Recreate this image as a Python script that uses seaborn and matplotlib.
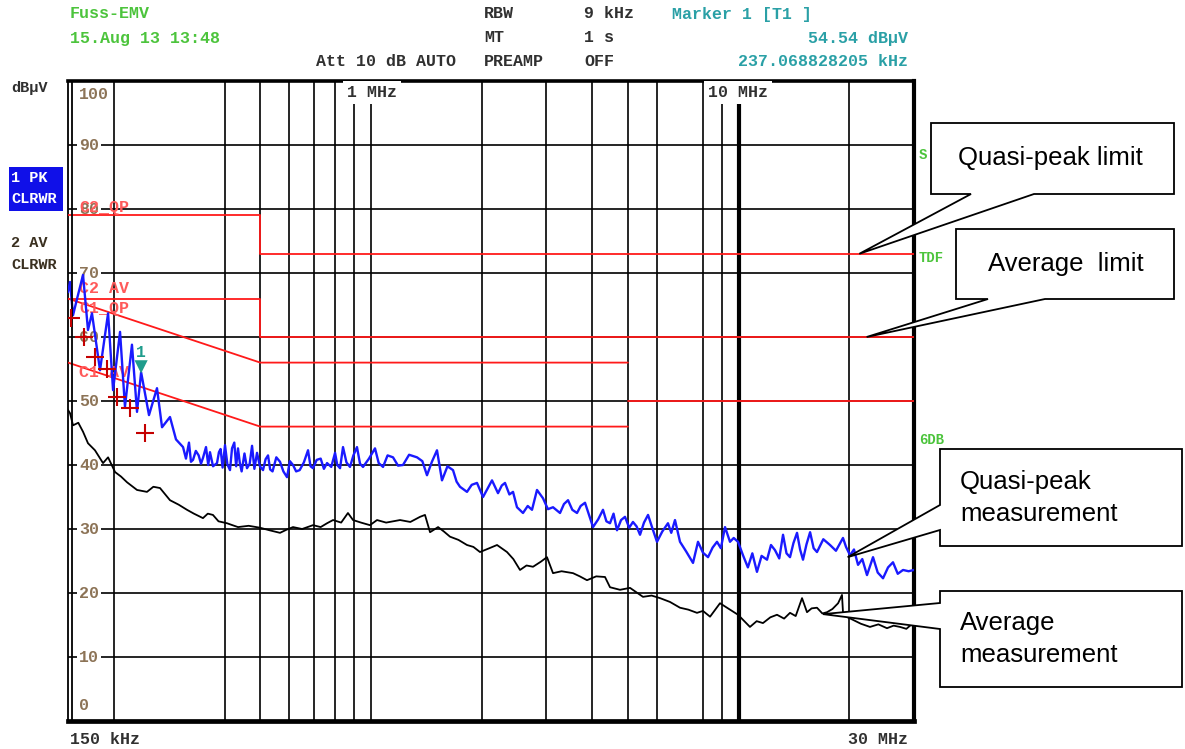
import matplotlib
matplotlib.use("Agg")
import matplotlib.pyplot as plt
import matplotlib.transforms as mtransforms
from matplotlib.patches import Polygon
import pandas as pd
import seaborn as sns

# ---------------- data ----------------
# peak (PK) trace: (frequency MHz, level dBuV)
pk_points = [
    (0.150, 67.0), (0.1519, 68.6), (0.1548, 63.4), (0.158, 65.5), (0.1648, 69.7),
    (0.1700, 61.1), (0.1743, 63.7), (0.1833, 54.8), (0.1928, 63.7), (0.1989, 51.7),
    (0.2078, 60.8), (0.2143, 49.1), (0.2239, 58.8), (0.2311, 48.3), (0.2371, 54.5),
    (0.2491, 47.8), (0.2619, 52.0), (0.2703, 45.9), (0.2841, 47.5), (0.2950, 44.0),
    (0.3083, 42.8), (0.3140, 41.0), (0.3200, 43.5), (0.3240, 40.5), (0.3282, 40.8),
    (0.3340, 42.2), (0.3400, 41.5), (0.3450, 40.2), (0.3493, 41.1), (0.3560, 42.8),
    (0.3610, 40.0), (0.3650, 42.0), (0.3720, 39.8), (0.3814, 40.3), (0.3860, 42.0),
    (0.3900, 42.5), (0.3950, 39.6), (0.4010, 43.1), (0.4070, 40.1), (0.4137, 39.2),
    (0.4190, 42.6), (0.4250, 43.5), (0.4300, 39.8), (0.4350, 42.6), (0.4400, 40.3),
    (0.4450, 39.0), (0.4530, 41.8), (0.4602, 39.5), (0.4680, 40.2), (0.4750, 43.0),
    (0.4820, 39.4), (0.4900, 41.9), (0.4990, 39.8), (0.5088, 39.2), (0.5170, 40.9),
    (0.5250, 41.5), (0.5320, 39.3), (0.5400, 39.0), (0.5530, 41.2), (0.5659, 40.5),
    (0.5780, 39.0), (0.5913, 38.1), (0.6020, 40.6), (0.6139, 40.0), (0.6260, 39.0),
    (0.6400, 39.2), (0.6570, 40.4), (0.6744, 42.3), (0.6850, 39.8), (0.6958, 39.5),
    (0.7120, 40.8), (0.7300, 41.0), (0.7450, 39.4), (0.7598, 40.3), (0.7800, 39.7),
    (0.7988, 41.9), (0.8100, 40.0), (0.8242, 39.5), (0.8396, 42.8), (0.8580, 40.4),
    (0.8772, 39.7), (0.8960, 41.5), (0.9164, 42.8), (0.9340, 40.2), (0.9516, 39.7),
    (0.9880, 41.0), (1.0259, 42.6), (1.0500, 40.3), (1.0788, 39.7), (1.1100, 41.5),
    (1.1484, 41.2), (1.1850, 39.9), (1.2225, 40.0), (1.2700, 41.6), (1.3345, 41.2),
    (1.3800, 40.6), (1.4207, 38.4), (1.4650, 40.5), (1.5125, 42.3), (1.5606, 37.6),
    (1.6150, 39.8), (1.6722, 39.2), (1.7100, 37.4), (1.7469, 36.6), (1.8252, 35.8),
    (1.8800, 36.9), (1.9433, 37.2), (2.0180, 35.0), (2.0800, 36.4), (2.1347, 37.6),
    (2.2164, 35.6), (2.2700, 36.8), (2.3157, 37.2), (2.3800, 35.4), (2.4350, 35.8),
    (2.4963, 33.4), (2.5920, 32.5), (2.6700, 33.6), (2.7425, 33.0), (2.8295, 36.1),
    (2.9382, 34.8), (3.0300, 33.1), (3.1283, 33.4), (3.2682, 32.5), (3.3500, 33.9),
    (3.4364, 34.5), (3.5300, 33.0), (3.6353, 32.5), (3.7200, 33.6), (3.8223, 34.1),
    (3.9200, 32.2), (4.0188, 30.3), (4.1500, 31.5), (4.2776, 33.0), (4.3700, 31.2),
    (4.4696, 30.9), (4.5700, 32.4), (4.670, 29.8), (4.790, 31.4), (4.910, 31.9),
    (5.040, 30.2), (5.161, 31.1), (5.280, 30.4), (5.394, 29.1), (5.530, 31.0),
    (5.672, 32.2), (5.830, 30.1), (5.999, 28.0), (6.200, 29.6), (6.426, 30.9),
    (6.560, 29.4), (6.715, 31.4), (6.929, 28.0), (7.200, 26.5), (7.517, 24.7),
    (7.756, 28.0), (8.000, 26.3), (8.258, 25.6), (8.500, 27.1), (8.736, 28.0),
    (8.950, 27.0), (9.186, 30.3), (9.477, 28.0), (9.700, 28.6), (9.965, 28.0),
    (10.28, 25.9), (10.60, 24.0), (10.90, 26.2), (11.22, 23.3), (11.55, 25.8),
    (11.95, 25.2), (12.25, 27.5), (12.56, 26.7), (12.90, 25.4), (13.21, 29.1),
    (13.50, 26.2), (13.80, 25.6), (14.10, 27.8), (14.42, 29.4), (14.70, 26.8),
    (14.97, 25.2), (15.30, 27.6), (15.65, 29.5), (16.00, 27.0), (16.34, 26.4),
    (17.00, 28.4), (17.73, 27.5), (18.40, 26.6), (19.23, 28.6), (19.60, 27.2),
    (20.10, 25.9), (20.60, 26.8), (21.13, 24.4), (21.70, 25.3), (22.35, 22.8),
    (23.21, 25.6), (23.90, 23.2), (24.71, 22.3), (25.50, 24.0), (26.30, 24.8),
    (27.10, 23.0), (28.01, 23.6), (29.00, 23.4), (30.0, 23.6),
]

# average (AV) trace: (frequency MHz, level dBuV)
av_points = [
    (0.150, 48.6), (0.1519, 48.1), (0.1548, 46.2), (0.1600, 46.6), (0.1648, 45.2),
    (0.1700, 43.4), (0.1776, 42.3), (0.1868, 40.3), (0.1928, 41.2), (0.2014, 38.9),
    (0.2090, 38.2), (0.2171, 37.3), (0.2311, 36.1), (0.2460, 35.8), (0.2560, 36.6),
    (0.2669, 36.4), (0.2841, 34.5), (0.3000, 33.8), (0.3160, 33.0), (0.3300, 32.4),
    (0.3493, 31.7), (0.3600, 32.4), (0.3718, 32.2), (0.3850, 31.2), (0.4060, 30.9),
    (0.4200, 30.6), (0.4350, 30.3), (0.4650, 30.5), (0.4992, 30.2), (0.5300, 29.8),
    (0.5659, 29.4), (0.5900, 29.9), (0.6139, 30.3), (0.6500, 30.0), (0.6958, 30.6),
    (0.7300, 30.3), (0.7598, 30.9), (0.7889, 31.4), (0.8300, 31.0), (0.8660, 32.5),
    (0.8940, 31.4), (0.9400, 31.0), (0.9940, 30.6), (1.039, 31.4), (1.100, 31.0),
    (1.200, 31.4), (1.280, 31.1), (1.360, 31.9), (1.403, 32.2), (1.448, 29.5),
    (1.523, 30.3), (1.580, 29.6), (1.641, 28.8), (1.730, 28.3), (1.825, 27.5),
    (1.900, 27.2), (1.980, 26.4), (2.100, 27.0), (2.203, 27.5), (2.345, 26.4),
    (2.440, 25.3), (2.544, 23.6), (2.650, 24.3), (2.760, 24.1), (2.900, 24.9),
    (3.012, 25.6), (3.128, 23.1), (3.300, 23.4), (3.546, 23.1), (3.700, 22.6),
    (3.870, 22.0), (4.100, 22.6), (4.332, 22.5), (4.470, 20.9), (4.758, 20.5),
    (5.067, 20.8), (5.495, 19.4), (5.800, 19.6), (6.114, 19.2), (6.509, 18.6),
    (6.929, 17.7), (7.300, 17.4), (7.707, 16.9), (8.000, 17.2), (8.364, 16.3),
    (8.901, 18.4), (9.300, 17.7), (9.965, 16.6), (10.74, 14.7), (11.20, 15.6),
    (11.65, 15.3), (12.20, 16.2), (12.72, 16.6), (13.30, 16.0), (13.80, 16.9),
    (14.30, 16.4), (14.88, 19.2), (15.35, 17.0), (15.80, 17.6), (16.34, 17.7),
    (16.90, 16.8), (17.40, 17.0), (18.00, 17.5), (18.65, 18.4), (19.11, 19.7),
    (19.23, 17.0), (19.80, 16.2), (20.48, 15.8), (21.50, 15.2), (22.77, 14.7),
    (24.00, 15.1), (25.33, 14.5), (26.40, 14.9), (27.48, 14.7), (28.60, 14.4),
    (29.82, 15.3), (30.0, 14.8),
]

# limit lines (MHz, dBuV)
c2_qp_freq = [0.15, 0.5, 0.5, 30.0]
c2_qp_level = [79, 79, 73, 73]
c2_av_freq = [0.15, 0.5, 0.5, 30.0]
c2_av_level = [66, 66, 60, 60]
c1_qp_freq = [0.15, 0.5, 5.0]
c1_qp_level = [66, 56, 56]
c1_av_freq = [0.15, 0.5, 5.0]
c1_av_level = [56, 46, 46]
c1_av_hi_freq = [5.0, 30.0]
c1_av_hi_level = [50, 50]

# final quasi-peak measurements (red crosses)
qp_freq = [0.153, 0.1658, 0.1776, 0.1915, 0.2039, 0.2212, 0.2430]
qp_level = [63.0, 60.0, 56.9, 55.0, 50.6, 48.9, 45.0]

marker_freq = 0.237068828205
marker_level = 54.54

grid_freqs = [0.2, 0.4, 0.5, 0.6, 0.7, 0.8, 0.9, 1, 2, 3, 4, 5, 6, 8, 9, 20]
grid_levels = [10, 20, 30, 40, 50, 60, 70, 80, 90]
ytick_labels = ["100", "90", "80", "70", "60", "50", "40", "30", "20", "10", "0"]
ytick_values = [100, 90, 80, 70, 60, 50, 40, 30, 20, 10, 0]

limit_labels = ["C2_QP", "C2 AV", "C1_QP", "C1 AV"]
limit_label_levels = [80.2, 67.6, 64.4, 54.4]

callouts = [("Quasi-peak limit", 21.3, 73.0),
            ("Average  limit", 22.3, 60.0),
            ("Quasi-peak\nmeasurement", 19.8, 25.6),
            ("Average\nmeasurement", 16.97, 16.7)]

# ---------------- style ----------------
sns.set_theme(style="white")
plt.rcParams["font.family"] = ["Liberation Sans", "DejaVu Sans"]
MONO = ["Liberation Mono", "DejaVu Sans Mono"]

W, H = 1185, 749
fig = plt.figure(figsize=(W / 100, H / 100), dpi=100)
fig.patch.set_facecolor("white")
ax = fig.add_axes([68 / W, 28 / H, 846 / W, 640 / H])
ax.set_xscale("log")
ax.set_xlim(0.15, 30)
ax.set_ylim(0, 100)
ax.set_facecolor("white")

# grid
for f in grid_freqs:
    ax.axvline(f, color="black", lw=1.2, zorder=1)
ax.axvline(10, color="black", lw=3.0, zorder=1)
for lv in grid_levels:
    ax.axhline(lv, color="black", lw=1.2, zorder=1)

ax.set_xticks([])
ax.set_xticks([], minor=True)
ax.set_yticks([])
ax.tick_params(which="both", length=0)
for side, lw in [("left", 1.3), ("right", 3.0), ("top", 2.6), ("bottom", 3.4)]:
    ax.spines[side].set_visible(True)
    ax.spines[side].set_color("black")
    ax.spines[side].set_linewidth(lw)
ax.plot([0.0045, 0.0045], [0, 1], transform=ax.transAxes, color="black", lw=1.3, clip_on=False, zorder=5)

# y labels inside plot
blend = mtransforms.blended_transform_factory(ax.transAxes, ax.transData)
for lab, v in zip(ytick_labels, ytick_values):
    va = "center"
    if v == 100:
        va = "top"
    elif v == 0:
        va = "bottom"
    yy = v - 0.9 if v == 100 else (v + 1.2 if v == 0 else v)
    ax.text(0.0135, yy, lab, transform=blend, ha="left", va=va, color="#8c7356",
            fontsize=12, family=MONO, weight="bold", zorder=2,
            bbox=dict(boxstyle="square,pad=0.12", fc="white", ec="none"))

# limit lines
red = "#ff1a1a"
for fx, ly in [(c2_qp_freq, c2_qp_level), (c2_av_freq, c2_av_level),
               (c1_qp_freq, c1_qp_level), (c1_av_freq, c1_av_level),
               (c1_av_hi_freq, c1_av_hi_level)]:
    sns.lineplot(x=fx, y=ly, ax=ax, color=red, lw=1.3, estimator=None, sort=False, zorder=3)

for lab, v in zip(limit_labels, limit_label_levels):
    ax.text(0.0135, v, lab, transform=blend, ha="left", va="center", color="#ff5a5a",
            fontsize=12, family=MONO, weight="bold", zorder=3)

# traces
df_pk = pd.DataFrame(pk_points, columns=["f", "dB"])
df_av = pd.DataFrame(av_points, columns=["f", "dB"])
sns.lineplot(data=df_av, x="f", y="dB", ax=ax, color="black", lw=1.3, estimator=None, sort=False, zorder=4)
sns.lineplot(data=df_pk, x="f", y="dB", ax=ax, color="#1a1aff", lw=1.7, estimator=None, sort=False, zorder=4)

sns.scatterplot(x=qp_freq, y=qp_level, ax=ax, marker="+", s=160, color="#c40000",
                linewidth=1.5, zorder=6)
sns.scatterplot(x=[marker_freq], y=[marker_level + 0.8], ax=ax, marker="v", s=90,
                color="#1f9c8c", edgecolor="none", zorder=7)
ax.annotate("1", (marker_freq, marker_level), xytext=(0, 14), textcoords="offset points",
            ha="center", va="center", color="#1f9c8c", fontsize=12, family=MONO, weight="bold", zorder=7)
ax.set_xlabel("")
ax.set_ylabel("")

# frequency labels at top of plot
for lab, xf in [("1 MHz", (347 - 68) / 846), ("10 MHz", (708 - 68) / 846)]:
    ax.text(xf, 0.982, lab, transform=ax.transAxes, ha="left", va="center", color="#303030",
            fontsize=12, family=MONO, weight="bold", zorder=6,
            bbox=dict(boxstyle="square,pad=0.25", fc="white", ec="none"))

# ---------------- overlay (header, side labels, callouts) ----------------
ov = fig.add_axes([0, 0, 1, 1], zorder=20)
ov.set_xlim(0, W)
ov.set_ylim(H, 0)
ov.axis("off")
ov.patch.set_alpha(0)

def mono(x, y, s, color="#303030", ha="left", size=12, **kw):
    ov.text(x, y, s, ha=ha, va="center", color=color, fontsize=size, family=MONO, weight="bold", **kw)

green = "#4cc43c"
teal = "#2aa0a6"
mono(70, 14, "Fuss-EMV", green)
mono(70, 38, "15.Aug 13 13:48", green)
mono(484, 14, "RBW")
mono(584, 14, "9 kHz")
mono(672, 14, "Marker 1 [T1 ]", teal)
mono(484, 38, "MT")
mono(584, 38, "1 s")
mono(908, 38, "54.54 dB\u00b5V", teal, ha="right")
mono(316, 62, "Att 10 dB AUTO")
mono(484, 62, "PREAMP")
mono(584, 62, "OFF")
mono(908, 62, "237.068828205 kHz", teal, ha="right")
mono(11, 88, "dB\u00b5V", size=11)
mono(70, 740, "150 kHz")
mono(908, 740, "30 MHz", ha="right")

ov.add_patch(plt.Rectangle((9, 167), 54, 44, fc="#1010e8", ec="none"))
mono(11, 178, "1 PK", "white", size=11)
mono(11, 199, "CLRWR", "white", size=11)
mono(11, 243, "2 AV", "#3a3020", size=11)
mono(11, 265, "CLRWR", "#3a3020", size=11)

mono(919, 155, "S", green, size=10)
mono(919, 258, "TDF", green, size=10)
mono(919, 440, "6DB", green, size=10)

def tip_px(f, lv):
    dx, dy = ax.transData.transform((f, lv))
    return dx, H - dy

# callout boxes
boxes = [
    dict(l=931, r=1174, t=123, b=194, side="bottom", b1=971, b2=1034, tx=1050, ty=158, ha="center"),
    dict(l=956, r=1174, t=229, b=299, side="bottom", b1=988, b2=1045, tx=1066, ty=264, ha="center"),
    dict(l=940, r=1182, t=449, b=546, side="left", b1=505, b2=530, tx=960, ty=498, ha="left"),
    dict(l=940, r=1182, t=591, b=687, side="left", b1=603, b2=629, tx=960, ty=639, ha="left"),
]
for (label, tf, tl), bx in zip(callouts, boxes):
    tx, ty = tip_px(tf, tl)
    l, r, t, b = bx["l"], bx["r"], bx["t"], bx["b"]
    if bx["side"] == "bottom":
        verts = [(l, t), (r, t), (r, b), (bx["b2"], b), (tx, ty), (bx["b1"], b), (l, b)]
    else:
        verts = [(l, t), (r, t), (r, b), (l, b), (l, bx["b2"]), (tx, ty), (l, bx["b1"])]
    ov.add_patch(Polygon(verts, closed=True, fc="white", ec="black", lw=1.3, joinstyle="miter"))
    ov.text(bx["tx"], bx["ty"], label, ha=bx["ha"], va="center", fontsize=18.5,
            family=["Liberation Sans", "DejaVu Sans"], color="black", linespacing=1.4)

fig.savefig("out.png", dpi=100, facecolor="white")
